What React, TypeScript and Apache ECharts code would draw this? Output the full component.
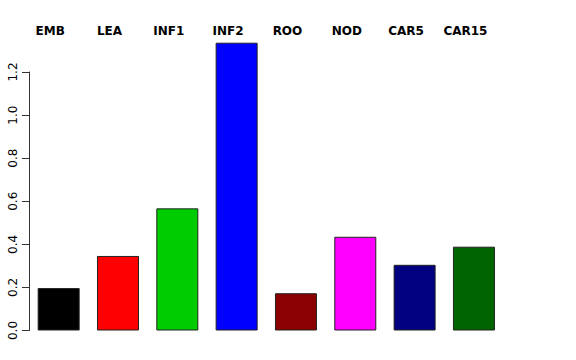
import React, { useEffect, useRef } from "react";
import * as echarts from "echarts";

const categories = ["EMB", "LEA", "INF1", "INF2", "ROO", "NOD", "CAR5", "CAR15"];
const values = [0.197, 0.346, 0.567, 1.336, 0.173, 0.435, 0.305, 0.389];
const colors = ["#000000", "#FF0000", "#00CD00", "#0000FF", "#8B0000", "#FF00FF", "#000080", "#006400"];
const yTicks = [0, 0.2, 0.4, 0.6, 0.8, 1.0, 1.2];

export default function App() {
  const ref = useRef<HTMLDivElement>(null);
  useEffect(() => {
    if (!ref.current) return;
    const chart = echarts.init(ref.current, undefined, { renderer: "svg" });
    chart.setOption({
      animation: false,
      backgroundColor: "#ffffff",
      grid: { left: 29, right: 72.4, top: 72, bottom: 29.5, containLabel: false },
      xAxis: [
        {
          type: "category",
          data: categories,
          position: "bottom",
          axisLine: { show: false },
          axisTick: { show: false },
          axisLabel: { show: false },
          splitLine: { show: false },
        },
        {
          type: "category",
          data: categories,
          position: "top",
          axisLine: { show: false },
          axisTick: { show: false },
          splitLine: { show: false },
          axisLabel: {
            show: true,
            margin: 35,
            color: "#000",
            fontFamily: "DejaVu Sans",
            fontWeight: "bold",
            fontSize: 12,
            padding: [0, 17, 0, 0],
          },
        },
      ],
      yAxis: {
        type: "value",
        min: yTicks[0],
        max: yTicks[yTicks.length - 1],
        interval: 0.2,
        axisLine: { show: true, lineStyle: { color: "#333", width: 1 } },
        axisTick: { show: true, length: 7, lineStyle: { color: "#333", width: 1 } },
        splitLine: { show: false },
        axisLabel: {
          rotate: 90,
          margin: 10,
          color: "#000",
          fontFamily: "DejaVu Sans",
          fontSize: 12,
          formatter: (v: number) => v.toFixed(1),
        },
      },
      series: [
        {
          type: "bar",
          xAxisIndex: 0,
          clip: false,
          barWidth: 42,
          data: values.map((v, i) => ({
            value: v,
            itemStyle: { color: colors[i], borderColor: "#222", borderWidth: 1 },
          })),
        },
      ],
    });
    return () => chart.dispose();
  }, []);
  return (
    <div
      ref={ref}
      style={{ position: "fixed", left: 0, top: 0, width: 576, height: 360, background: "#fff" }}
    />
  );
}
